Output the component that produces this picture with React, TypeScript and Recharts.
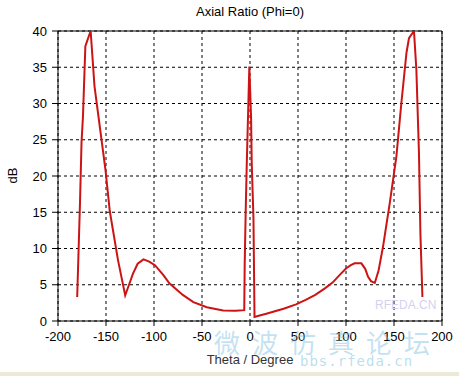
import { LineChart, Line, XAxis, YAxis, CartesianGrid, ReferenceLine } from 'recharts';

const THETA = [
  -180, -177, -175.5, -174, -171.5, -166, -162, -150.5, -146, -137.5, -130, -126, -122, -117, -111, -105, -99,
  -90, -84, -70, -59, -45, -28, -15, -6, -5.5, -4.5, -3.4, -0.7, 1.1, 1.8, 3.6, 4.7, 10, 17, 25, 35, 48, 58, 68,
  78, 86, 93, 100, 105, 109, 116, 120, 123, 126, 130, 134, 138.5, 145.5, 152.5, 157.7, 163, 165.6, 170.8, 173.3,
  176, 177.5, 179.6,
];
const AXIAL_RATIO = [
  3.3, 16.7, 24.6, 28.2, 37.9, 40, 32.4, 20.8, 15.1, 8.4, 3.55, 5.0, 6.5, 7.9, 8.5, 8.2, 7.7,
  6.3, 5.2, 3.6, 2.6, 1.9, 1.45, 1.4, 1.5, 8, 15, 21.5, 35.1, 28.2, 21.8, 14.2, 0.55, 0.75, 1.0, 1.3, 1.7, 2.3, 2.9, 3.6,
  4.5, 5.3, 6.3, 7.25, 7.7, 7.95, 7.95, 7.2, 6.1, 5.5, 5.25, 7.0, 10.2, 16.2, 22.7, 30.1, 37, 39, 40, 34.7,
  23.2, 12.1, 3.3,
];
const X_TICKS = [-200, -150, -100, -50, 0, 50, 100, 150, 200];
const Y_TICKS = [0, 5, 10, 15, 20, 25, 30, 35, 40];

const data = THETA.map((t, i) => ({ theta: t, ar: AXIAL_RATIO[i] }));

const FONT = '"Liberation Sans", Arial, sans-serif';
const tick = { fill: '#000', fontSize: 13, fontFamily: FONT };

export default function App() {
  return (
    <div style={{ position: 'fixed', left: 0, top: 0, width: 459, height: 376, background: '#fff', fontFamily: FONT, overflow: 'hidden' }}>
      <LineChart width={459} height={376} data={data} margin={{ top: 31, right: 17, left: 0, bottom: 0 }}>
        <CartesianGrid stroke="#000" strokeDasharray="3 3" />
        <XAxis
          dataKey="theta"
          type="number"
          domain={[-200, 200]}
          ticks={X_TICKS}
          tick={tick}
          stroke="#000"
          tickSize={5}
          tickMargin={6}
          height={55}
        />
        <YAxis
          type="number"
          domain={[0, 40]}
          ticks={Y_TICKS}
          tick={tick}
          stroke="#000"
          tickSize={6}
          tickMargin={5}
          width={58}
          allowDataOverflow
        />
        <ReferenceLine y={40} stroke="#000" />
        <ReferenceLine x={200} stroke="#000" />
        <Line
          type="linear"
          dataKey="ar"
          stroke="#cc1414"
          strokeWidth={2}
          dot={false}
          isAnimationActive={false}
        />
      </LineChart>
      <div style={{ position: 'absolute', top: 4, left: 0, width: 500, textAlign: 'center', fontSize: 13, color: '#000' }}>
        Axial Ratio (Phi=0)
      </div>
      <div style={{ position: 'absolute', left: 5, top: 168, fontSize: 13, transform: 'rotate(-90deg)', color: '#000' }}>
        dB
      </div>
      <div style={{ position: 'absolute', top: 352, left: 0, width: 500, textAlign: 'center', fontSize: 13, color: '#333' }}>
        Theta / Degree
      </div>
      <div style={{ position: 'absolute', left: 375, top: 298, fontSize: 12, color: '#d6d0f0' }}>RFEDA.CN</div>
      <div style={{ position: 'absolute', left: 214, top: 323, fontSize: 26, color: 'rgba(120,190,225,0.45)', letterSpacing: 12, fontFamily: '"Noto Sans CJK SC", sans-serif' }}>
        微波仿真论坛
      </div>
      <div style={{ position: 'absolute', left: 300, top: 353, fontSize: 14, color: 'rgba(120,190,225,0.5)', fontFamily: '"DejaVu Sans Mono", monospace', letterSpacing: 1 }}>
        bbs.rfeda.cn
      </div>
      <div style={{ position: 'absolute', left: 0, top: 372, width: 459, height: 4, background: '#ece9d8' }} />
    </div>
  );
}
